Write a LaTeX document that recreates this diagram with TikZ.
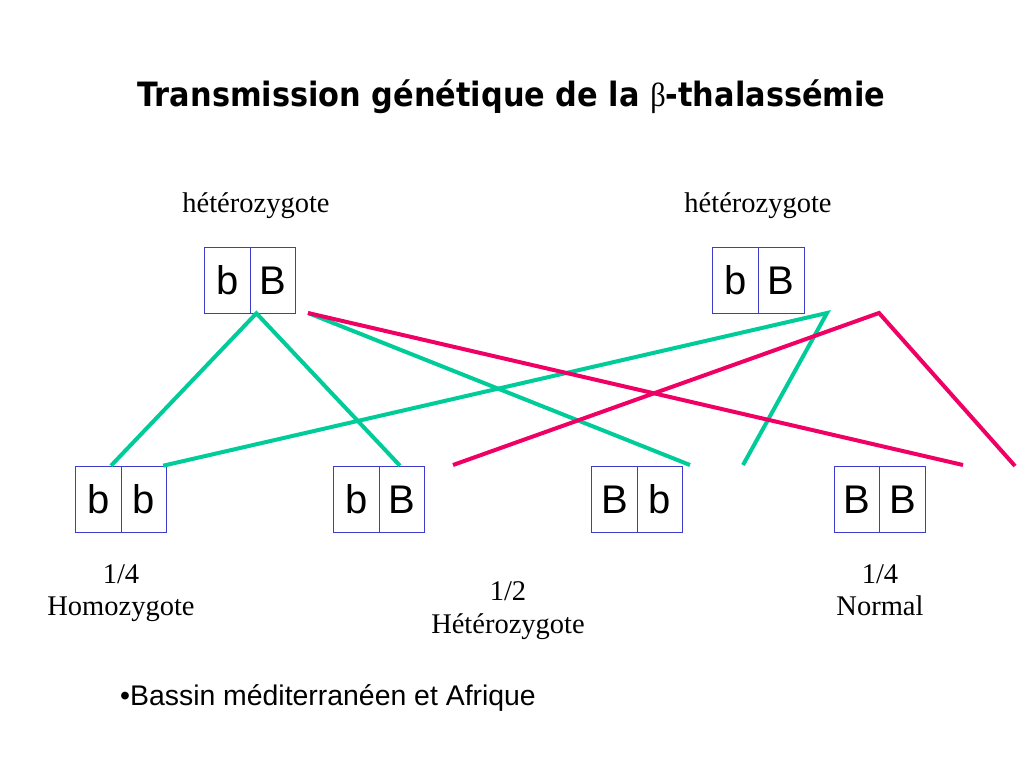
\documentclass[tikz,border=0pt]{standalone}
\usepackage{fontspec}
\usepackage{graphicx}
\setmainfont{Liberation Serif}
\newfontfamily\titlefont{DejaVu Sans}
\newfontfamily\armfont{Liberation Sans}
\newfontfamily\greekfont{Liberation Serif}
\definecolor{gline}{RGB}{0,204,153}
\definecolor{pline}{RGB}{240,0,100}
\definecolor{boxblue}{RGB}{60,60,205}
\tikzset{
  cell/.style={draw=boxblue, line width=0.8pt, minimum width=45.5pt, minimum height=65.8pt,
    inner sep=0pt, font=\armfont\fontsize{40}{40}\selectfont, text height=28.5pt, text depth=0pt},
  serifl/.style={font=\fontsize{28.5}{33}\selectfont, inner sep=0pt, anchor=base},
  glink/.style={draw=gline, line width=4pt},
  plink/.style={draw=pline, line width=4pt}
}
\begin{document}
\begin{tikzpicture}[x=1pt,y=-1pt]
\useasboundingbox[fill=white] (0,0) rectangle (1024,768);
% title
\node[anchor=base, inner sep=0pt] (title) at (511.5,106.7)
  {\resizebox{748pt}{\height}{\titlefont\bfseries\fontsize{33.5}{33.5}\selectfont Transmission génétique de la {\greekfont\mdseries β}-thalassémie}};
% parent labels
\node[serifl] (h1) at (256,212) {hétérozygote};
\node[serifl] (h2) at (758,212) {hétérozygote};
% parents
\node[cell] (p1l) at (227.45,280) {b};
\node[cell] (p1r) at (272.95,280) {B};
\node[cell] (p2l) at (735.5,280) {b};
\node[cell] (p2r) at (781.2,280) {B};
% children
\node[cell] (c1l) at (98.2,499) {b};
\node[cell] (c1r) at (143.7,499) {b};
\node[cell] (c2l) at (356.5,499) {b};
\node[cell] (c2r) at (402,499) {B};
\node[cell] (c3l) at (614.5,499) {B};
\node[cell] (c3r) at (660,499) {b};
\node[cell] (c4l) at (857,499) {B};
\node[cell] (c4r) at (902.5,499) {B};
% free ends
\coordinate (pa) at (308,313);
\coordinate (qa) at (827,313);
\coordinate (qb) at (879,313);
\coordinate (e1) at (690,465);
\coordinate (e2) at (743,465);
\coordinate (e3) at (453,465);
\coordinate (e4) at (963,465);
\coordinate (e5) at (1015,466);
% green connectors
\draw[glink] ([xshift=12.8pt]c1l.north) -- ([xshift=5.8pt]p1l.south east) -- ([xshift=-2pt]c2r.north);
\draw[glink] (pa) -- (e1);
\draw[glink] ([xshift=-3.7pt]c1r.north east) -- (qa) -- (e2);
% pink connectors
\draw[plink] (pa) -- (e4);
\draw[plink] (e3) -- (qb) -- (e5);
% probabilities
\node[serifl] (f1) at (121,583) {1/4};
\node[serifl] (t1) at (121,615) {Homozygote};
\node[serifl] (f2) at (508,600) {1/2};
\node[serifl] (t2) at (508,633) {Hétérozygote};
\node[serifl] (f3) at (880,583) {1/4};
\node[serifl] (t3) at (880,615) {Normal};
% note
\node[anchor=base west, inner sep=0pt, font=\armfont\fontsize{28.4}{28.4}\selectfont] (note) at (120,705) {•Bassin méditerranéen et Afrique};
\end{tikzpicture}
\end{document}
